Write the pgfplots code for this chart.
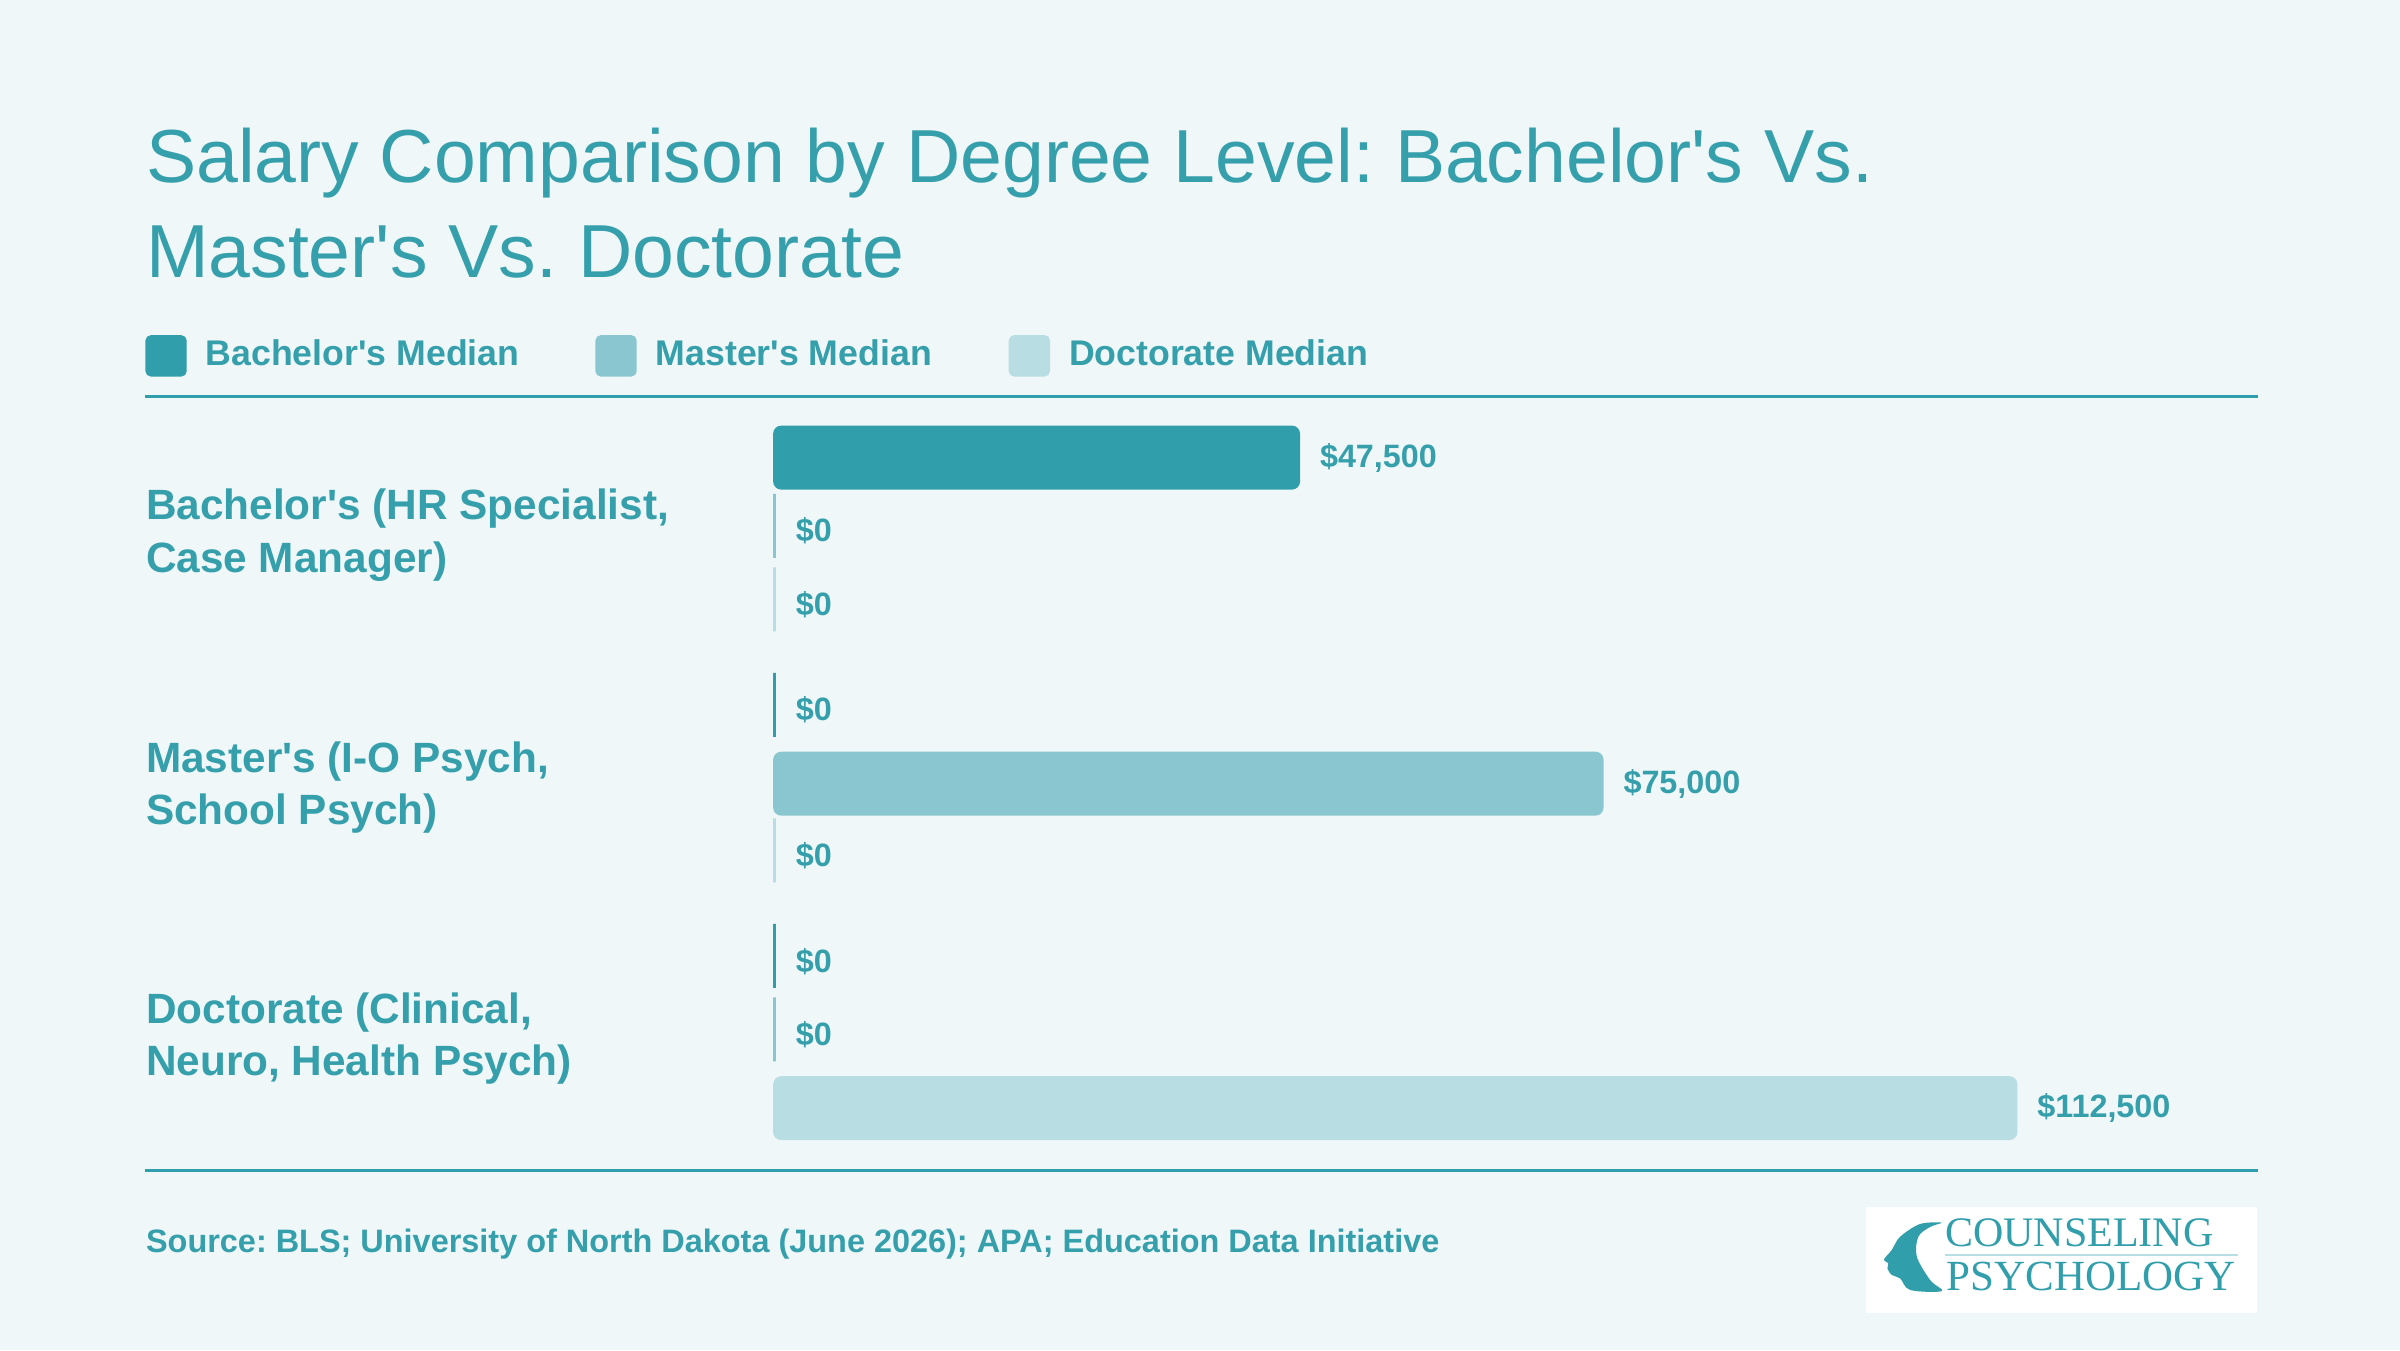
\documentclass[border=0pt]{standalone}
\usepackage{pgfplots}
\pgfplotsset{compat=1.18}
\usepackage{fontspec}
\setmainfont{Liberation Sans}[Ligatures=TeXOff]
\newfontfamily\logofont{Liberation Serif}
\definecolor{teal1}{HTML}{319EAB}
\definecolor{teal2}{HTML}{8AC6CF}
\definecolor{teal3}{HTML}{B8DDE2}
\definecolor{bgc}{HTML}{EFF7F8}
\definecolor{txt}{HTML}{359FAB}
\frenchspacing
\begin{document}
\frenchspacing
\begin{tikzpicture}[x=0.4592pt,y=0.4592pt]
\fill[bgc] (0,0) rectangle (1568,882);
% title
\node[anchor=base west, inner sep=0pt, text=txt, font=\fontsize{22.55}{27}\selectfont] at (95,{882-119.5}) {Salary Comparison by Degree Level: Bachelor's Vs.};
\node[anchor=base west, inner sep=0pt, text=txt, font=\fontsize{22.55}{27}\selectfont] at (95,{882-181}) {Master's Vs. Doctorate};
% legend
\fill[teal1, rounded corners=1.6pt] (95,{882-219}) rectangle (122,{882-246});
\fill[teal2, rounded corners=1.6pt] (389,{882-219}) rectangle (416,{882-246});
\fill[teal3, rounded corners=1.6pt] (659,{882-219}) rectangle (686,{882-246});
\node[anchor=base west, inner sep=0pt, text=txt, font=\fontsize{10.7}{13}\selectfont\bfseries] at (134,{882-239}) {Bachelor's Median};
\node[anchor=base west, inner sep=0pt, text=txt, font=\fontsize{10.7}{13}\selectfont\bfseries] at (428,{882-239}) {Master's Median};
\node[anchor=base west, inner sep=0pt, text=txt, font=\fontsize{10.7}{13}\selectfont\bfseries] at (698,{882-239}) {Doctorate Median};
% rules
\draw[teal1, line width=0.9pt] (95,{882-259}) -- (1475,{882-259});
\draw[teal1, line width=0.9pt] (95,{882-765}) -- (1475,{882-765});
\begin{axis}[
  at={(232.36pt,53.73pt)}, anchor=south west,
  width=444.97pt, height=232.36pt, scale only axis,
  xmin=0, xmax=134400, ymin=259, ymax=765, y dir=reverse,
  xbar, bar width=40,
  axis line style={draw=none},
  xtick=\empty, ytick={347,512,676}, major tick length=0pt,
  yticklabels={{Bachelor's (HR Specialist,\\Case Manager)},{Master's (I-O Psych,\\School Psych)},{Doctorate (Clinical,\\Neuro, Health Psych)}},
  yticklabel style={anchor=west, align=left, inner sep=0pt, xshift=-188.73pt, yshift=-1.2pt, text=txt, font=\fontsize{12.7}{15.7}\selectfont\bfseries},
  clip=false,
  point meta=x,
  nodes near coords={\$\pgfmathprintnumber[fixed, precision=0, 1000 sep={,}, assume math mode=true]{\pgfplotspointmeta}},
  every node near coord/.append style={anchor=west, inner sep=0pt, xshift=6pt, text=txt, font=\fontsize{9.7}{12}\selectfont\bfseries},
]
\addplot[xbar, bar shift=0pt, fill=teal1, draw=teal1, line width=0.8pt, rounded corners=2pt] coordinates {(47500,299) (0,464) (0,628)};
\addplot[xbar, bar shift=0pt, fill=teal2, draw=teal2, line width=0.8pt, rounded corners=2pt] coordinates {(0,347) (75000,512) (0,676)};
\addplot[xbar, bar shift=0pt, fill=teal3, draw=teal3, line width=0.8pt, rounded corners=2pt] coordinates {(0,395) (0,559) (112500,724)};
\end{axis}
% source
\node[anchor=base west, inner sep=0pt, text=txt, font=\fontsize{9.73}{12}\selectfont\bfseries] at (95,{882-818}) {Source: BLS; University of North Dakota (June 2026); APA; Education Data Initiative};
% logo
\fill[white] (1219,{882-788.5}) rectangle (1474.5,{882-857.5});
\fill[teal1] plot[smooth cycle, tension=0.55] coordinates {(1268.6,{882-798.8}) (1254.4,{882-799.7}) (1241.4,{882-808}) (1235.9,{882-816.7}) (1230.9,{882-822.8}) (1233.7,{882-825.4}) (1233.1,{882-828.7}) (1235.9,{882-833}) (1241.4,{882-835.2}) (1248,{882-842.8}) (1268.6,{882-843.5}) (1261,{882-836.3}) (1252.3,{882-821}) (1253.3,{882-808}) (1261,{882-801.6})};
\draw[teal3, line width=0.5pt] (1271,{882-820}) -- (1462,{882-820});
\node[anchor=base west, inner sep=0pt, text=teal1, font=\logofont\fontsize{12.6}{14}\selectfont] at (1270.5,{882-814.5}) {COUNSELING};
\node[anchor=base west, inner sep=0pt, text=teal1, font=\logofont\fontsize{12.9}{14}\selectfont] at (1271.5,{882-843}) {PSYCHOLOGY};
\pgfresetboundingbox
\path[use as bounding box] (0,0) rectangle (1568,882);
\end{tikzpicture}
\end{document}
